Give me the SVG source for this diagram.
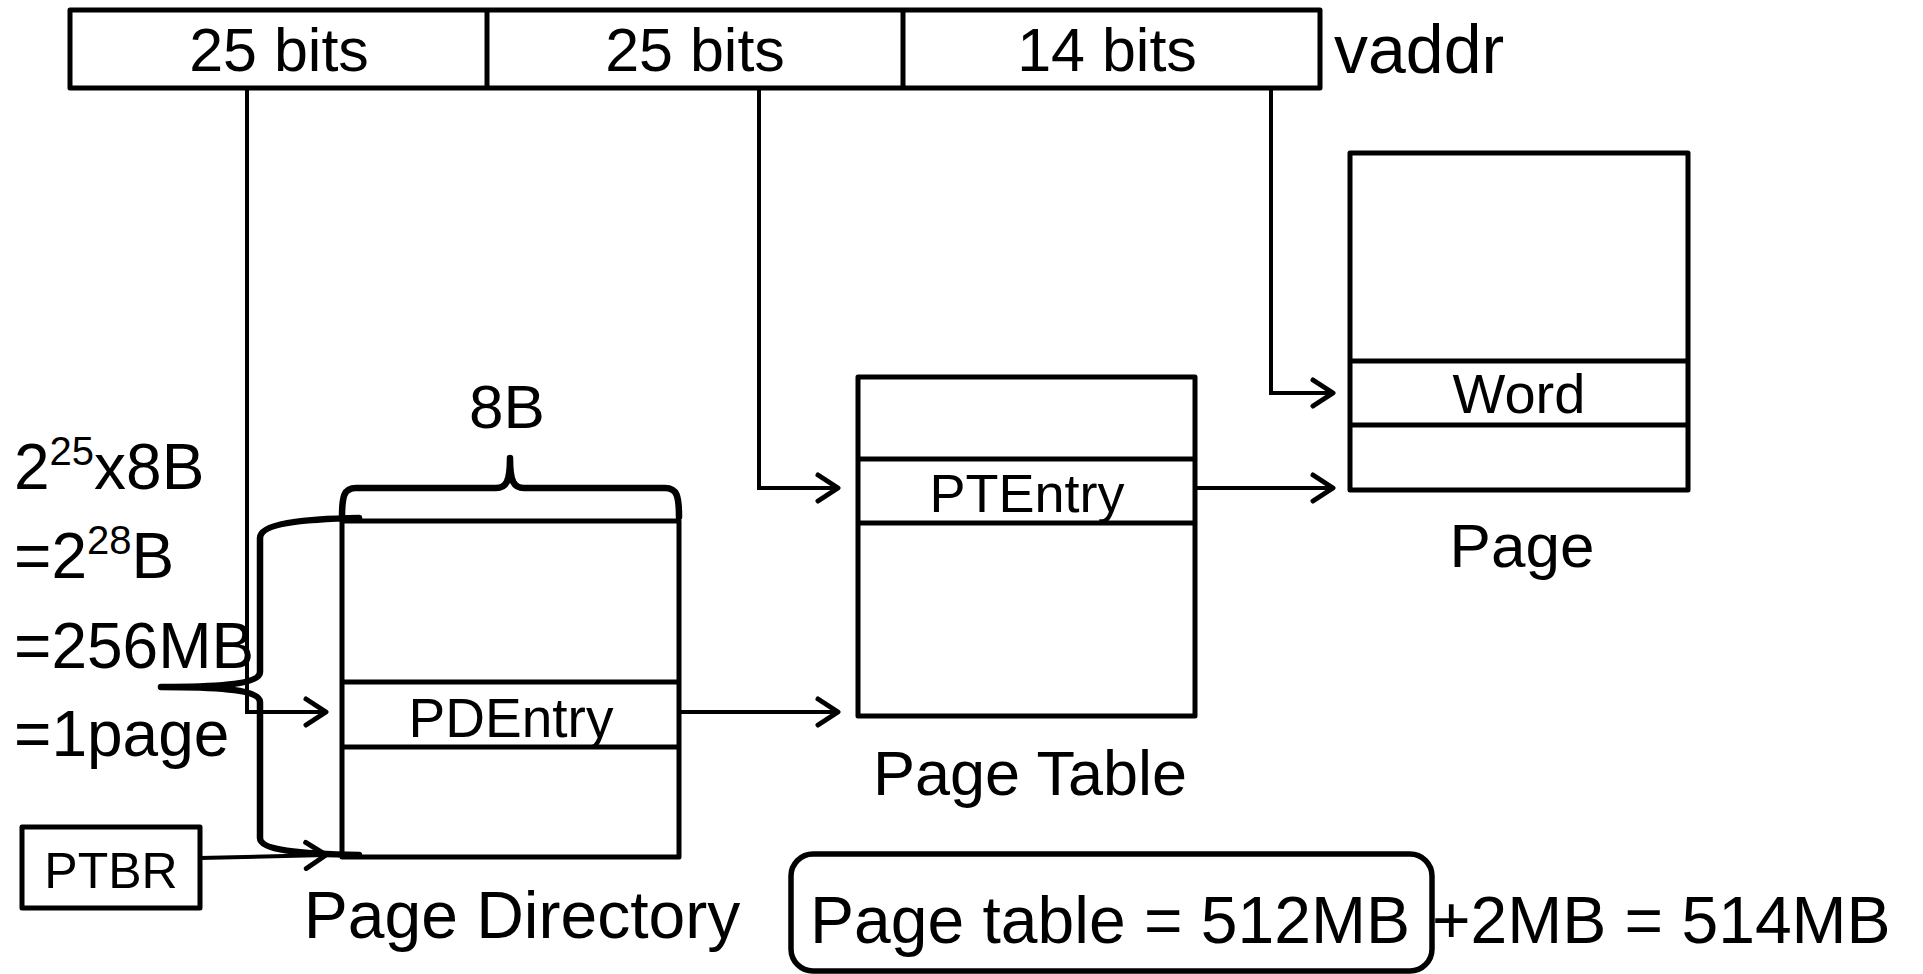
<svg xmlns="http://www.w3.org/2000/svg" width="1923" height="974" viewBox="0 0 1923 974">
  <defs>
    <marker id="arrow" markerUnits="userSpaceOnUse" markerWidth="34" markerHeight="34" refX="26" refY="17" orient="auto">
      <path d="M6,4 L26,17 L6,30" fill="none" stroke="#000" stroke-width="5" stroke-linecap="round" stroke-linejoin="round"/>
    </marker>
    <style>
      text { font-family: "Liberation Sans", Arial, sans-serif; fill: #000; }
      .box { fill: #fff; stroke: #000; stroke-width: 5; stroke-linejoin: round; }
      .row { stroke: #000; stroke-width: 5; }
      .conn { fill: none; stroke: #000; stroke-width: 4; marker-end: url(#arrow); }
      .brace { fill: none; stroke: #000; stroke-width: 6.5; stroke-linecap: round; stroke-linejoin: round; }
      .mid { text-anchor: middle; }
    </style>
  </defs>
  <rect width="1923" height="974" fill="#fff"/>

  <!-- virtual address split into fields -->
  <g id="vaddr">
    <rect class="box" x="70" y="10" width="1250" height="78"/>
    <line class="row" x1="487" y1="10" x2="487" y2="88"/>
    <line class="row" x1="903" y1="10" x2="903" y2="88"/>
    <text class="mid" x="279" y="71" font-size="61">25 bits</text>
    <text class="mid" x="695" y="71" font-size="61">25 bits</text>
    <text class="mid" x="1107" y="71" font-size="61">14 bits</text>
    <text x="1334" y="73" font-size="68">vaddr</text>
  </g>

  <!-- connectors -->
  <g id="connectors">
    <path class="conn" d="M247,88 V712 H326"/>
    <path class="conn" d="M759,88 V488 H838"/>
    <path class="conn" d="M1271,88 V393 H1333"/>
    <path class="conn" d="M679,712 H838"/>
    <path class="conn" d="M1195,488 H1333"/>
    <path class="conn" d="M200,858 L326,855"/>
  </g>

  <!-- page directory -->
  <g id="page-directory">
    <rect class="box" x="342" y="521" width="337" height="336"/>
    <line class="row" x1="342" y1="682" x2="679" y2="682"/>
    <line class="row" x1="342" y1="747" x2="679" y2="747"/>
    <text class="mid" x="511" y="737" font-size="55">PDEntry</text>
    <text class="mid" x="522" y="938" font-size="66">Page Directory</text>
  </g>

  <!-- page table -->
  <g id="page-table">
    <rect class="box" x="858" y="377" width="337" height="339"/>
    <line class="row" x1="858" y1="459" x2="1195" y2="459"/>
    <line class="row" x1="858" y1="523" x2="1195" y2="523"/>
    <text class="mid" x="1027" y="512" font-size="54">PTEntry</text>
    <text class="mid" x="1030" y="795" font-size="63">Page Table</text>
  </g>

  <!-- data page -->
  <g id="page">
    <rect class="box" x="1350" y="153" width="338" height="337"/>
    <line class="row" x1="1350" y1="361" x2="1688" y2="361"/>
    <line class="row" x1="1350" y1="425" x2="1688" y2="425"/>
    <text class="mid" x="1519" y="413" font-size="56">Word</text>
    <text class="mid" x="1522" y="567" font-size="62">Page</text>
  </g>

  <!-- page table base register -->
  <g id="ptbr">
    <rect class="box" x="22" y="827" width="178" height="81"/>
    <text class="mid" x="111" y="888" font-size="50">PTBR</text>
  </g>

  <!-- entry width brace -->
  <g id="entry-width">
    <path class="brace" d="M342,517 C342,496 344,488 356,488 L496,488 C506,488 510,482 510,458 C510,482 514,488 524,488 L665,488 C677,488 679,496 679,517"/>
    <text class="mid" x="507" y="428" font-size="62">8B</text>
  </g>

  <!-- directory size brace -->
  <g id="directory-size">
    <path class="brace" d="M359,518 C300,519 260,524 260,538 L260,672 C260,684 220,687 161,687 C220,687 260,690 260,702 L260,838 C260,850 300,854 359,855"/>
    <text x="14" y="489" font-size="64">2<tspan font-size="40" dy="-24">25</tspan><tspan dy="24">x8B</tspan></text>
    <text x="14" y="578" font-size="64">=2<tspan font-size="40" dy="-24">28</tspan><tspan dy="24">B</tspan></text>
    <text x="14" y="668" font-size="64">=256MB</text>
    <text x="14" y="756" font-size="64">=1page</text>
  </g>

  <!-- total size -->
  <g id="total">
    <rect x="791" y="854" width="641" height="117" rx="22" fill="none" stroke="#000" stroke-width="5.5"/>
    <text x="810" y="943" font-size="66">Page table = 512MB</text>
    <text x="1432" y="943" font-size="66">+2MB = 514MB</text>
  </g>
</svg>
